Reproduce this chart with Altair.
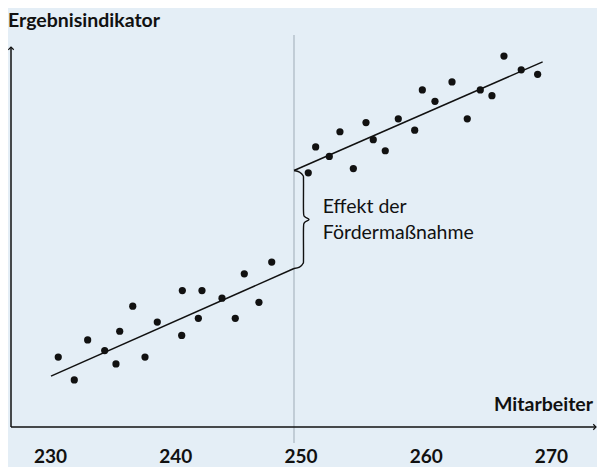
import altair as alt
import pandas as pd

# ---- data ----
left_x = [231.17, 232.45, 233.52, 234.88, 235.78, 236.08, 237.12, 238.10, 239.08,
          241.03, 241.08, 242.36, 242.65, 244.25, 245.31, 246.03, 247.20, 248.22]
left_y = [18.4, 12.4, 22.9, 20.1, 16.6, 25.2, 31.8, 18.4, 27.6,
          24.1, 35.9, 28.6, 35.9, 33.9, 28.6, 40.3, 32.8, 43.4]
right_x = [251.14, 251.73, 252.82, 253.67, 254.74, 255.75, 256.33, 257.29, 258.33, 259.64,
           260.25, 261.26, 262.62, 263.84, 264.88, 265.81, 266.77, 268.15, 269.46]
right_y = [66.9, 73.7, 71.2, 77.7, 68.0, 80.1, 75.6, 72.7, 81.1, 78.1,
           88.7, 85.7, 90.8, 81.1, 88.7, 87.2, 97.6, 94.0, 92.8]
fit_left_x = [230.59, 250.0]
fit_left_y = [13.4, 41.7]
fit_right_x = [250.0, 269.86]
fit_right_y = [67.5, 96.1]
cutoff = 250
tick_values = [230, 240, 250, 260, 270]
tick_labels = ["230", "240", "250", "260", "270"]
y_title = "Ergebnisindikator"
x_title = "Mitarbeiter"
note_lines = ["Effekt der", "Fördermaßnahme"]

FONT = "Lato"
BG = "#e4eef6"
INK = "#111111"
PX_PER_UNIT = 12.52  # x-scale pixels per unit

W, H = 589, 459
xscale = alt.Scale(domain=[230, 270], range=[286 - 20 * PX_PER_UNIT, 286 + 20 * PX_PER_UNIT])
yscale = alt.Scale(domain=[0, 100], range=[419, 39])

pts = pd.DataFrame({"x": left_x + right_x, "y": left_y + right_y})
fits = pd.DataFrame({
    "x": fit_left_x + fit_right_x,
    "y": fit_left_y + fit_right_y,
    "seg": ["l", "l", "r", "r"],
})

# brace between the two regression line ends at the cutoff
prof_dx = [0, 5.5, 9, 9.5, 9.5, 10.5, 15, 10.5, 9.5, 9.5, 9, 5.5, 0]
prof_t = [0, 1.5, 5, 10, 40, 45.5, 48.5, 51.5, 57, 87, 92, 95.5, 97]
b_top, b_bot = fit_right_y[0], fit_left_y[-1]
brace = pd.DataFrame({
    "x": [cutoff + d / PX_PER_UNIT for d in prof_dx],
    "y": [b_top - (b_top - b_bot) * t / 97 for t in prof_t],
    "i": list(range(len(prof_dx))),
})

X = lambda: alt.X("x:Q", scale=xscale, axis=None)
Y = lambda: alt.Y("y:Q", scale=yscale, axis=None)
one = pd.DataFrame({"a": [0]})

points = alt.Chart(pts).mark_circle(size=52, color=INK, opacity=1).encode(x=X(), y=Y())
lines = alt.Chart(fits).mark_line(color=INK, strokeWidth=1.5).encode(
    x=X(), y=Y(), detail="seg:N")
brace_mark = alt.Chart(brace).mark_line(color=INK, strokeWidth=1.4, interpolate="cardinal").encode(
    x=X(), y=Y(), order="i:Q")

vline = alt.Chart(pd.DataFrame({"x": [cutoff]})).mark_rule(color="#9eabb6", strokeWidth=1).encode(
    x=alt.X("x:Q", scale=xscale, axis=None), y=alt.value(27), y2=alt.value(435))

xaxis = alt.Chart(one).mark_rule(color=INK, strokeWidth=1.5).encode(
    x=alt.value(3), x2=alt.value(588), y=alt.value(419))
yaxis = alt.Chart(one).mark_rule(color=INK, strokeWidth=1.5).encode(
    x=alt.value(3), y=alt.value(39), y2=alt.value(419))
arrow_r = alt.Chart(one).mark_point(
    shape="M-1,-1L0,0L-1,1", filled=False, color=INK, strokeWidth=1.2, size=30, opacity=1).encode(
    x=alt.value(588), y=alt.value(419))
arrow_u = alt.Chart(one).mark_point(
    shape="M-1,1L0,0L1,1", filled=False, color=INK, strokeWidth=1.2, size=30, opacity=1).encode(
    x=alt.value(3), y=alt.value(39))

ticks = alt.Chart(pd.DataFrame({"x": tick_values, "t": tick_labels})).mark_text(
    font=FONT, fontSize=19, fontWeight="bold", color=INK, baseline="alphabetic", align="center", dx=7).encode(
    x=alt.X("x:Q", scale=xscale, axis=None), y=alt.value(455), text="t:N")

ytitle = alt.Chart(pd.DataFrame({"t": [y_title]})).mark_text(
    font=FONT, fontSize=19.5, fontWeight="bold", color=INK, baseline="alphabetic", align="left").encode(
    x=alt.value(0), y=alt.value(18.7), text="t:N")
xtitle = alt.Chart(pd.DataFrame({"t": [x_title]})).mark_text(
    font=FONT, fontSize=19.5, fontWeight="bold", color=INK, baseline="alphabetic", align="right").encode(
    x=alt.value(585), y=alt.value(402.7), text="t:N")
note1 = alt.Chart(pd.DataFrame({"t": [note_lines[0]]})).mark_text(
    font=FONT, fontSize=19.5, color=INK, baseline="alphabetic", align="left").encode(
    x=alt.value(314.7), y=alt.value(205.3), text="t:N")
note2 = alt.Chart(pd.DataFrame({"t": [note_lines[1]]})).mark_text(
    font=FONT, fontSize=19.5, color=INK, baseline="alphabetic", align="left").encode(
    x=alt.value(314.7), y=alt.value(231.3), text="t:N")

chart = alt.layer(
    vline, xaxis, yaxis, arrow_r, arrow_u, lines, brace_mark, points, ticks, ytitle, xtitle, note1, note2
).properties(
    width=W, height=H, autosize=alt.AutoSizeParams(type="none"), padding=0, background=BG
).configure_view(stroke=None)

chart.save("out.html", embed_options={"renderer": "svg", "actions": False})
